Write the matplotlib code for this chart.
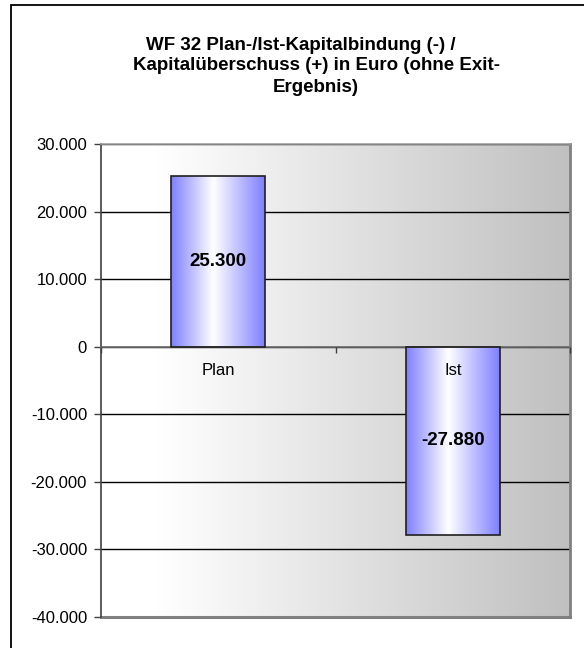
import matplotlib.pyplot as plt
import numpy as np
from matplotlib.colors import LinearSegmentedColormap
from matplotlib.patches import Rectangle
from matplotlib.ticker import FuncFormatter, FixedLocator

plt.rcParams["font.family"] = ["Liberation Sans", "DejaVu Sans"]

title_lines = ["WF 32 Plan-/Ist-Kapitalbindung (-) /",
               "Kapitalüberschuss (+) in Euro (ohne Exit-",
               "Ergebnis)"]
categories = ["Plan", "Ist"]
values = [25300, -27880]
y_ticks = [-40000, -30000, -20000, -10000, 0, 10000, 20000, 30000]


def de_number(v, _pos=None):
    # German thousands separator
    return f"{int(round(v)):,}".replace(",", ".")


W, H = 584, 648
fig = plt.figure(figsize=(W / 100, H / 100), dpi=100)
fig.patch.set_facecolor("white")

# outer chart frame (only top/left edges fall inside the image)
fig.patches.append(Rectangle((11 / W, -0.1), 1.2, 1 - 5 / H + 0.1,
                             transform=fig.transFigure, fill=False,
                             edgecolor="black", lw=1.3))

# title, one line at a time
for (cx, cy), line in zip([(301, 45), (316, 66), (316, 87)], title_lines):
    fig.text(cx / W, 1 - cy / H, line, ha="center", va="center",
             fontsize=13.5, weight="bold")

ax = fig.add_axes([101 / W, 1 - 617 / H, (570 - 101) / W, (617 - 144) / H])
x = np.arange(len(categories))

# plot area background: white on the left fading to grey on the right
bg = LinearSegmentedColormap.from_list(
    "bg", [(0.0, "#ffffff"), (0.12, "#ffffff"), (1.0, "#c0c0c0")])
ax.imshow(np.linspace(0, 1, 256)[None, :], cmap=bg, aspect="auto",
          extent=[-0.5, len(categories) - 0.5, y_ticks[0], y_ticks[-1]],
          zorder=0, interpolation="bicubic")

ax.set_yticks(y_ticks)
ax.yaxis.grid(True, color="black", lw=1.0)
ax.set_axisbelow(True)

# bars with a blue-white-blue horizontal gradient
bar_cmap = LinearSegmentedColormap.from_list(
    "bar", [(0.0, "#7f7fff"), (0.45, "#ffffff"), (1.0, "#7f7fff")])
bars = ax.bar(x, values, width=0.4, facecolor="none", edgecolor="#202020",
              lw=1.2, zorder=3)
for b in bars:
    x0, y0, w, h = b.get_x(), b.get_y(), b.get_width(), b.get_height()
    ax.imshow(np.linspace(0, 1, 256)[None, :], cmap=bar_cmap, aspect="auto",
              extent=[x0, x0 + w, min(y0, y0 + h), max(y0, y0 + h)],
              zorder=2, interpolation="bicubic")

ax.set_xlim(-0.5, len(categories) - 0.5)
ax.set_ylim(y_ticks[0], y_ticks[-1])

for xi, v in zip(x, values):
    ax.text(xi, v / 2, de_number(v), ha="center", va="center",
            fontsize=13.5, weight="bold", color="black", zorder=6)

# category axis sits on the zero line
ax.spines["bottom"].set_position(("data", 0))
ax.spines["bottom"].set_color("#707070")
ax.spines["bottom"].set_linewidth(1.2)
ax.spines["bottom"].set_zorder(2.6)
ax.xaxis.set_major_locator(FixedLocator([-0.5, 0.5, 1.5]))
ax.xaxis.set_major_formatter(FuncFormatter(lambda v, p: ""))
ax.xaxis.set_minor_locator(FixedLocator(list(x)))
ax.set_xticklabels(categories, minor=True)
ax.tick_params(axis="x", which="major", direction="out", length=4,
               color="#404040", width=1)
ax.tick_params(axis="x", which="minor", length=0, pad=12, labelsize=12)
ax.xaxis.set_zorder(5)

ax.yaxis.set_major_formatter(FuncFormatter(de_number))
ax.tick_params(axis="y", direction="out", length=5, color="#404040",
               width=1, labelsize=12, pad=5)

ax.spines["left"].set_color("#404040")
ax.spines["left"].set_linewidth(1.2)
ax.spines["top"].set_color("#a0a0a0")
ax.spines["top"].set_linewidth(1.2)
ax.spines["right"].set_color("#808080")
ax.spines["right"].set_linewidth(2)
# lower frame edge of the plot area
ax.axhline(y_ticks[0], color="#808080", lw=2.2, clip_on=False, zorder=2.5)

fig.savefig("out.png", dpi=100)
